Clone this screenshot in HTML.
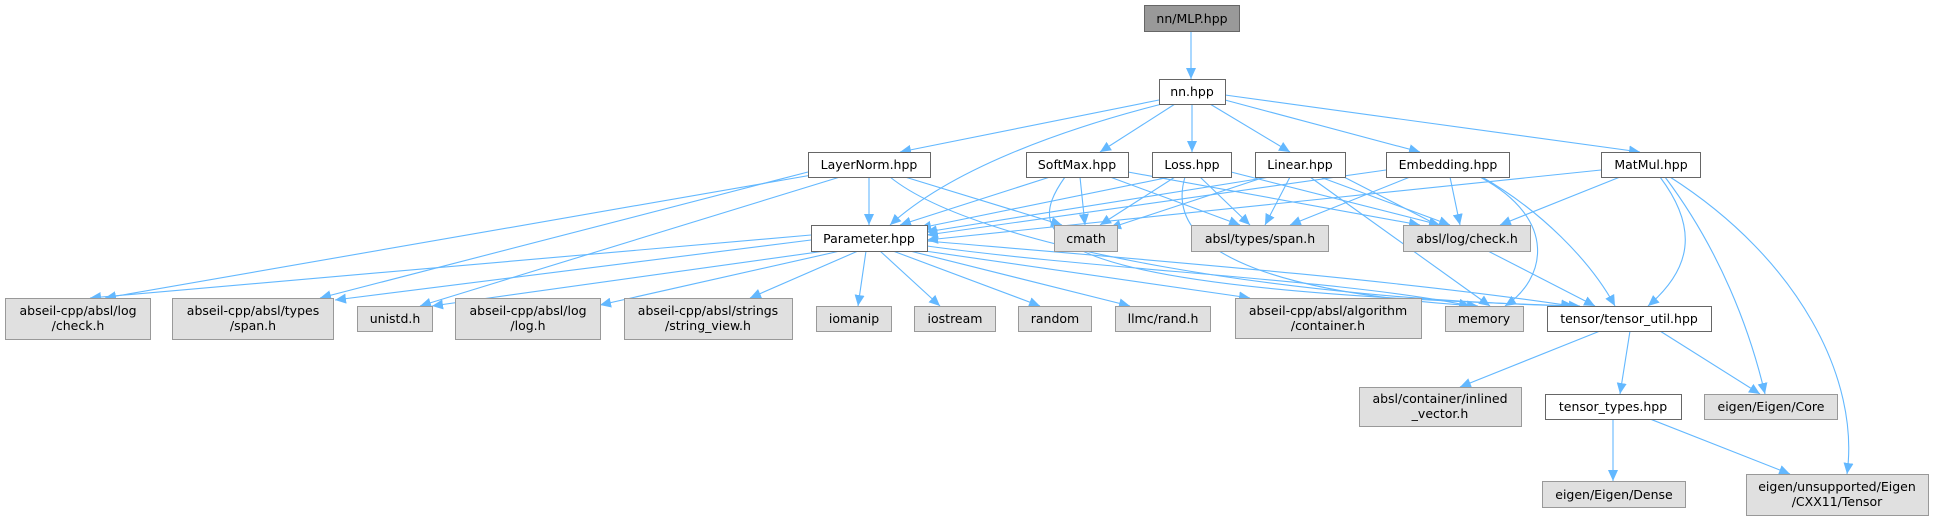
<!DOCTYPE html>
<html><head><meta charset="utf-8"><style>
html,body{margin:0;padding:0;background:#fff;}
svg{display:block;}
text{font-family:"DejaVu Sans","Liberation Sans",sans-serif;font-size:12.5px;fill:#000;text-anchor:middle;}
.w{fill:#fff;stroke:#666;stroke-width:1;}
.g{fill:#e0e0e0;stroke:#999;stroke-width:1;}
.d{fill:#999;stroke:#666;stroke-width:1;}
path.e{fill:none;stroke:#63b8ff;stroke-width:1.1;marker-end:url(#a);}
</style></head><body>
<svg width="1934" height="520" viewBox="0 0 1934 520" xmlns="http://www.w3.org/2000/svg">
<defs><marker id="a" markerUnits="userSpaceOnUse" markerWidth="12" markerHeight="10" refX="11" refY="5" orient="auto"><path d="M0,0 L11,5 L0,10 z" fill="#63b8ff"/></marker></defs>
<g>
<path class="e" d="M1191,31 L1191,79"/>
<path class="e" d="M1159,100 L900,152"/>
<path class="e" d="M1162,104 C1060,130 950,170 890,225"/>
<path class="e" d="M1175,104 L1100,152"/>
<path class="e" d="M1192,104 L1192,152"/>
<path class="e" d="M1210,104 L1290,152"/>
<path class="e" d="M1225,100 L1420,152"/>
<path class="e" d="M1225,95 L1640,152"/>
<path class="e" d="M869,177 L869,225"/>
<path class="e" d="M812,175 L105,298"/>
<path class="e" d="M808,172 L320,298"/>
<path class="e" d="M840,177 L420,306"/>
<path class="e" d="M905,177 L1062,225"/>
<path class="e" d="M890,177 C980,250 1300,300 1575,306"/>
<path class="e" d="M1050,177 L900,225"/>
<path class="e" d="M1080,177 L1085,225"/>
<path class="e" d="M1110,177 L1240,225"/>
<path class="e" d="M1128,172 L1420,225"/>
<path class="e" d="M1065,177 C1020,240 1040,290 1580,306"/>
<path class="e" d="M1170,177 L920,228"/>
<path class="e" d="M1175,177 L1100,225"/>
<path class="e" d="M1200,177 L1250,225"/>
<path class="e" d="M1231,172 L1440,225"/>
<path class="e" d="M1185,177 C1160,260 1300,295 1478,306"/>
<path class="e" d="M1270,177 L926,232"/>
<path class="e" d="M1265,177 L1110,228"/>
<path class="e" d="M1290,177 L1265,225"/>
<path class="e" d="M1320,177 L1450,225"/>
<path class="e" d="M1310,177 L1490,306"/>
<path class="e" d="M1340,175 L1595,306"/>
<path class="e" d="M1386,170 L927,235"/>
<path class="e" d="M1410,177 L1290,225"/>
<path class="e" d="M1450,177 L1460,225"/>
<path class="e" d="M1480,177 C1560,220 1545,280 1505,306"/>
<path class="e" d="M1482,177 C1540,210 1590,260 1615,306"/>
<path class="e" d="M1601,170 L927,240"/>
<path class="e" d="M1620,177 L1500,225"/>
<path class="e" d="M1660,177 C1700,230 1690,270 1648,306"/>
<path class="e" d="M1665,177 C1720,250 1750,330 1765,394"/>
<path class="e" d="M1670,177 C1800,260 1860,380 1847,474"/>
<path class="e" d="M811,235 L90,298"/>
<path class="e" d="M811,240 L335,300"/>
<path class="e" d="M825,251 L432,306"/>
<path class="e" d="M840,251 L600,305"/>
<path class="e" d="M858,251 L750,298"/>
<path class="e" d="M866,251 L858,306"/>
<path class="e" d="M880,251 L940,306"/>
<path class="e" d="M893,251 L1040,306"/>
<path class="e" d="M910,251 L1130,306"/>
<path class="e" d="M925,251 L1250,298"/>
<path class="e" d="M927,246 C1100,270 1350,280 1470,306"/>
<path class="e" d="M927,241 C1150,260 1400,280 1572,306"/>
<path class="e" d="M1600,331 L1460,387"/>
<path class="e" d="M1630,331 L1620,394"/>
<path class="e" d="M1660,331 L1760,394"/>
<path class="e" d="M1613,419 L1613,481"/>
<path class="e" d="M1650,419 L1790,474"/>
</g>
<g>
<rect class="d" x="1144.5" y="5.5" width="95" height="26"/><text x="1192" y="23">nn/MLP.hpp</text>
<rect class="w" x="1159.5" y="79.5" width="66" height="25"/><text x="1192" y="96">nn.hpp</text>
<rect class="w" x="808.5" y="152.5" width="122" height="25"/><text x="869" y="169">LayerNorm.hpp</text>
<rect class="w" x="1026.5" y="152.5" width="102" height="25"/><text x="1077" y="169">SoftMax.hpp</text>
<rect class="w" x="1152.5" y="152.5" width="79" height="25"/><text x="1192" y="169">Loss.hpp</text>
<rect class="w" x="1255.5" y="152.5" width="90" height="25"/><text x="1300" y="169">Linear.hpp</text>
<rect class="w" x="1386.5" y="152.5" width="123" height="25"/><text x="1448" y="169">Embedding.hpp</text>
<rect class="w" x="1601.5" y="152.5" width="99" height="25"/><text x="1651" y="169">MatMul.hpp</text>
<rect class="w" x="811.5" y="225.5" width="116" height="26"/><text x="869" y="243">Parameter.hpp</text>
<rect class="g" x="1054.5" y="225.5" width="63" height="26"/><text x="1086" y="243">cmath</text>
<rect class="g" x="1191.5" y="225.5" width="137" height="26"/><text x="1260" y="243">absl/types/span.h</text>
<rect class="g" x="1403.5" y="225.5" width="127" height="26"/><text x="1467" y="243">absl/log/check.h</text>
<rect class="g" x="5.5" y="298.5" width="145" height="41"/><text x="78" y="315">abseil-cpp/absl/log</text><text x="78" y="330">/check.h</text>
<rect class="g" x="172.5" y="298.5" width="161" height="41"/><text x="253" y="315">abseil-cpp/absl/types</text><text x="253" y="330">/span.h</text>
<rect class="g" x="357.5" y="306.5" width="75" height="25"/><text x="395" y="323">unistd.h</text>
<rect class="g" x="455.5" y="298.5" width="145" height="41"/><text x="528" y="315">abseil-cpp/absl/log</text><text x="528" y="330">/log.h</text>
<rect class="g" x="624.5" y="298.5" width="168" height="41"/><text x="708" y="315">abseil-cpp/absl/strings</text><text x="708" y="330">/string_view.h</text>
<rect class="g" x="816.5" y="306.5" width="75" height="25"/><text x="854" y="323">iomanip</text>
<rect class="g" x="914.5" y="306.5" width="81" height="25"/><text x="955" y="323">iostream</text>
<rect class="g" x="1018.5" y="306.5" width="73" height="25"/><text x="1055" y="323">random</text>
<rect class="g" x="1115.5" y="306.5" width="95" height="25"/><text x="1163" y="323">llmc/rand.h</text>
<rect class="g" x="1235.5" y="298.5" width="186" height="40"/><text x="1328" y="315">abseil-cpp/absl/algorithm</text><text x="1328" y="330">/container.h</text>
<rect class="g" x="1445.5" y="306.5" width="78" height="25"/><text x="1484" y="323">memory</text>
<rect class="w" x="1547.5" y="306.5" width="164" height="25"/><text x="1629" y="323">tensor/tensor_util.hpp</text>
<rect class="g" x="1359.5" y="387.5" width="162" height="39"/><text x="1440" y="403">absl/container/inlined</text><text x="1440" y="418">_vector.h</text>
<rect class="w" x="1545.5" y="394.5" width="136" height="25"/><text x="1613" y="411">tensor_types.hpp</text>
<rect class="g" x="1704.5" y="394.5" width="133" height="25"/><text x="1771" y="411">eigen/Eigen/Core</text>
<rect class="g" x="1542.5" y="481.5" width="143" height="26"/><text x="1614" y="499">eigen/Eigen/Dense</text>
<rect class="g" x="1746.5" y="474.5" width="182" height="41"/><text x="1837" y="491">eigen/unsupported/Eigen</text><text x="1837" y="506">/CXX11/Tensor</text>
</g>
</svg>
</body></html>
